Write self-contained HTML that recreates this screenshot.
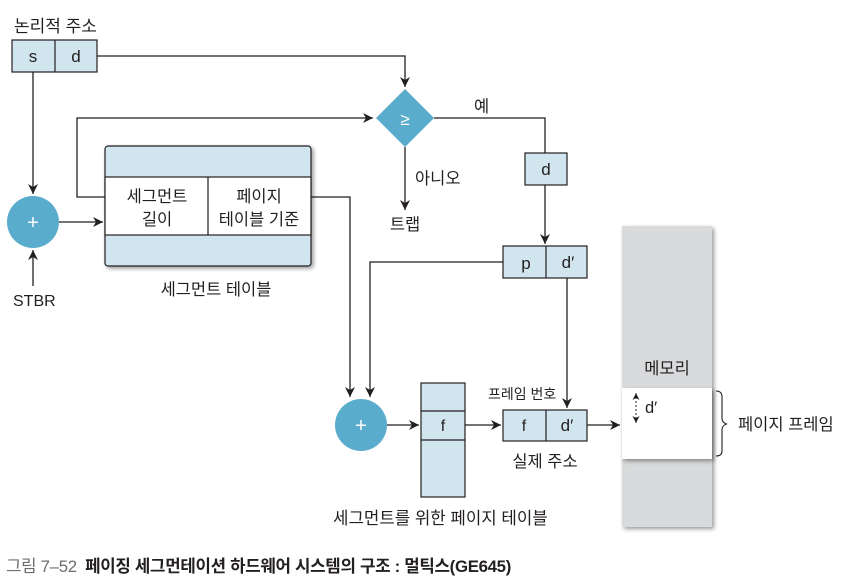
<!DOCTYPE html>
<html><head><meta charset="utf-8"><style>
html,body{margin:0;padding:0;background:#fff}
svg{display:block}
text{font-family:"Liberation Sans","Noto Sans CJK KR",sans-serif;fill:#231f20}
</style></head><body>
<svg width="844" height="582" viewBox="0 0 844 582" xmlns="http://www.w3.org/2000/svg">
<defs>
<marker id="a" viewBox="0 0 10 10" refX="10" refY="5" markerWidth="10" markerHeight="10" markerUnits="userSpaceOnUse" orient="auto"><path d="M0,0 L10,5 L0,10 L3,5 z" fill="#231f20"/></marker>
<marker id="s" viewBox="0 0 10 10" refX="10" refY="5" markerWidth="7" markerHeight="7" markerUnits="userSpaceOnUse" orient="auto-start-reverse"><path d="M0,0 L10,5 L0,10 L3,5 z" fill="#231f20"/></marker>
<filter id="sh" x="-10%" y="-10%" width="130%" height="130%"><feGaussianBlur in="SourceAlpha" stdDeviation="2"/><feOffset dx="2" dy="2"/><feComponentTransfer><feFuncA type="linear" slope="0.4"/></feComponentTransfer><feMerge><feMergeNode/><feMergeNode in="SourceGraphic"/></feMerge></filter>
</defs>
<g stroke="#231f20" stroke-width="1.3" fill="none">
<polyline points="97,56 405,56 405,87" marker-end="url(#a)"/>
<line x1="33" y1="72" x2="33" y2="194" marker-end="url(#a)"/>
<line x1="33" y1="286" x2="33" y2="250" marker-end="url(#a)"/>
<line x1="59" y1="222" x2="103" y2="222" marker-end="url(#a)"/>
<polyline points="105,197 77,197 77,118 373,118" marker-end="url(#a)"/>
<polyline points="311,197 350,197 350,397" marker-end="url(#a)"/>
<polyline points="434,118 545,118 545,153"/>
<line x1="545" y1="185" x2="545" y2="244" marker-end="url(#a)"/>
<line x1="405" y1="147" x2="405" y2="210" marker-end="url(#a)"/>
<polyline points="503,262 370,262 370,397" marker-end="url(#a)"/>
<line x1="567" y1="278" x2="567" y2="408" marker-end="url(#a)"/>
<line x1="387" y1="425" x2="419" y2="425" marker-end="url(#a)"/>
<line x1="465" y1="425" x2="501" y2="425" marker-end="url(#a)"/>
<line x1="587" y1="425" x2="620" y2="425" marker-end="url(#a)"/>
</g>
<rect x="12" y="40" width="85" height="32" fill="#d1e5ee" stroke="#231f20" stroke-width="1.2"/>
<line x1="55" y1="40" x2="55" y2="72" stroke="#231f20" stroke-width="1.2"/>
<text x="33" y="62" font-size="17" text-anchor="middle">s</text>
<text x="76" y="62" font-size="17" text-anchor="middle">d</text>
<text x="14" y="32" font-size="17">논리적 주소</text>
<circle cx="33" cy="222" r="26" fill="#5aaccd"/>
<text x="33" y="229" font-size="20" text-anchor="middle" style="fill:#fff">+</text>
<text x="13" y="306" font-size="16">STBR</text>
<g filter="url(#sh)">
<rect x="105" y="146" width="206" height="120" rx="3" fill="#d1e5ee" stroke="#231f20" stroke-width="1.2"/>
</g>
<rect x="105" y="177" width="206" height="58" fill="#fff" stroke="#231f20" stroke-width="1.2"/>
<line x1="208" y1="177" x2="208" y2="235" stroke="#231f20" stroke-width="1.2"/>
<text x="157" y="202" font-size="16.5" text-anchor="middle">세그먼트</text>
<text x="157" y="225" font-size="16.5" text-anchor="middle">길이</text>
<text x="259" y="202" font-size="16.5" text-anchor="middle">페이지</text>
<text x="259" y="225" font-size="16.5" text-anchor="middle">테이블 기준</text>
<text x="216" y="295" font-size="16.5" text-anchor="middle">세그먼트 테이블</text>
<polygon points="405,89 434,118 405,147 376,118" fill="#5aaccd"/>
<text x="405" y="125" font-size="17" text-anchor="middle" style="fill:#fff">≥</text>
<text x="474" y="112" font-size="16.5">예</text>
<text x="415" y="184" font-size="16.5">아니오</text>
<text x="405" y="230" font-size="16.5" text-anchor="middle">트랩</text>
<rect x="525" y="153" width="42" height="32" fill="#d1e5ee" stroke="#231f20" stroke-width="1.2"/>
<text x="546" y="175" font-size="17" text-anchor="middle">d</text>
<rect x="503" y="246" width="84" height="32" fill="#d1e5ee" stroke="#231f20" stroke-width="1.2"/>
<line x1="546" y1="246" x2="546" y2="278" stroke="#231f20" stroke-width="1.2"/>
<text x="526" y="269" font-size="17" text-anchor="middle">p</text>
<text x="568" y="268" font-size="17" text-anchor="middle">d′</text>
<g filter="url(#sh)"><rect x="622" y="226" width="90" height="301" fill="#d9dadb"/></g>
<g filter="url(#sh)"><rect x="622" y="388" width="90" height="71" fill="#fff"/></g>
<text x="667" y="374" font-size="16.5" text-anchor="middle">메모리</text>
<line x1="636" y1="393" x2="636" y2="423" stroke="#231f20" stroke-width="1" stroke-dasharray="2,2" marker-start="url(#s)" marker-end="url(#s)"/>
<text x="645" y="413" font-size="16.5">d′</text>
<path d="M716,391 Q722,391 722,397 L722,418 Q722,423 727,424 Q722,425 722,430 L722,451 Q722,456 716,456" fill="none" stroke="#231f20" stroke-width="1.1"/>
<text x="738" y="430" font-size="16.5">페이지 프레임</text>
<circle cx="361" cy="425" r="26" fill="#5aaccd"/>
<text x="361" y="432" font-size="20" text-anchor="middle" style="fill:#fff">+</text>
<rect x="421" y="383" width="44" height="114" fill="#d1e5ee" stroke="#231f20" stroke-width="1.2"/>
<line x1="421" y1="411" x2="465" y2="411" stroke="#231f20" stroke-width="1.2"/>
<line x1="421" y1="440" x2="465" y2="440" stroke="#231f20" stroke-width="1.2"/>
<text x="443" y="431" font-size="16" text-anchor="middle">f</text>
<text x="333" y="524" font-size="16.8">세그먼트를 위한 페이지 테이블</text>
<rect x="503" y="410" width="84" height="31" fill="#d1e5ee" stroke="#231f20" stroke-width="1.2"/>
<line x1="546" y1="410" x2="546" y2="441" stroke="#231f20" stroke-width="1.2"/>
<text x="524" y="431" font-size="16" text-anchor="middle">f</text>
<text x="567" y="431" font-size="17" text-anchor="middle">d′</text>
<text x="488" y="399" font-size="14">프레임 번호</text>
<text x="545" y="467" font-size="16.5" text-anchor="middle">실제 주소</text>
<text x="6" y="572" font-size="16.8" letter-spacing="-0.3"><tspan style="fill:#6d6e71">그림 7–52 </tspan><tspan font-weight="bold" dx="4">페이징 세그먼테이션 하드웨어 시스템의 구조 : 멀틱스(GE645)</tspan></text>
</svg>
</body></html>
